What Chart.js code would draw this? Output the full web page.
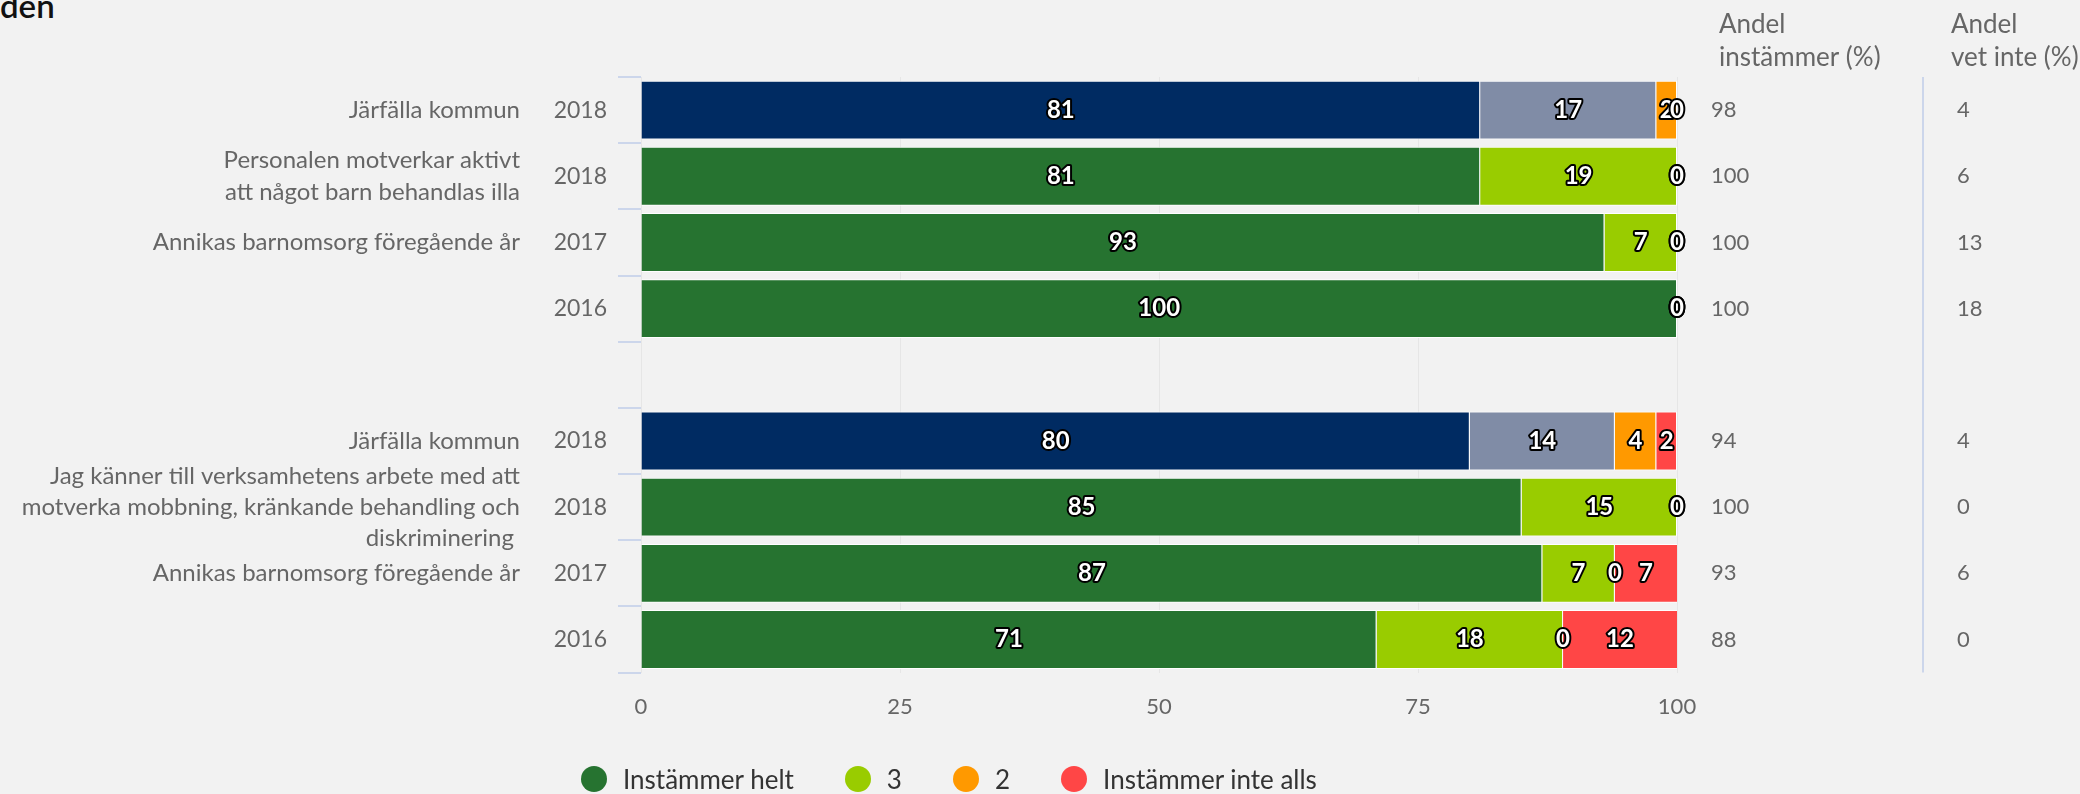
<!DOCTYPE html>
<html lang="sv">
<head>
<meta charset="utf-8">
<title>Andel instämmer</title>
<script src="https://cdn.jsdelivr.net/npm/chart.js@4.4.1/dist/chart.umd.min.js"></script>
<style>
  html, body { margin: 0; padding: 0; background: #f2f2f2; }
  body { width: 2080px; height: 794px; position: relative; overflow: hidden; font-family: Lato, sans-serif; }
  #wrap { position: absolute; left: 0; top: 0; width: 2080px; height: 794px; }
  #title { position: absolute; left: 0; top: -11px; font-size: 33px; font-weight: 600; line-height: 1; color: #111; }
  #legend { position: absolute; left: 581px; top: 766px; height: 26px; display: flex; align-items: center; gap: 51px; font-size: 26px; color: #333; }
  .item { display: flex; align-items: center; gap: 16px; }
  .dot { width: 26px; height: 26px; border-radius: 50%; }
</style>
</head>
<body>
<div id="title">den</div>
<div id="wrap"><canvas id="myChart"></canvas></div>
<div id="legend"></div>
<script>
// rows top to bottom, row 5 is the empty gap between the two questions
const groupLabels = [
  'Järfälla kommun',
  ['Personalen motverkar aktivt', 'att något barn behandlas illa'],
  'Annikas barnomsorg föregående år',
  '',
  '',
  'Järfälla kommun',
  ['Jag känner till verksamhetens arbete med att', 'motverka mobbning, kränkande behandling och', 'diskriminering '],
  'Annikas barnomsorg föregående år',
  '',
];
const years = ['2018', '2018', '2017', '2016', '', '2018', '2018', '2017', '2016'];

const seriesNames = ['Instämmer helt', '3', '2', 'Instämmer inte alls'];
const instammerHelt = [81, 81, 93, 100, null, 80, 85, 87, 71];
const tre           = [17, 19, 7, 0, null, 14, 15, 7, 18];
const tva           = [2, 0, 0, 0, null, 4, 0, 0, 0];
const inteAlls      = [0, 0, 0, 0, null, 2, 0, 7, 12];

const andelInstammer = [98, 100, 100, 100, null, 94, 100, 93, 88];
const andelVetInte   = [4, 6, 13, 18, null, 4, 0, 6, 0];

const seriesColors = ['#267330', '#99cc00', '#ff9900', '#ff4646'];
const kommunColors = ['#002b62', '#808ca6'];   // "Järfälla kommun" rows
const kommunRows = [0, 5];

const textGray = '#666666';

Chart.defaults.font.family = 'Lato, sans-serif';

function rowColors(seriesIdx) {
  return years.map((_, i) =>
    kommunRows.includes(i) && seriesIdx < 2 ? kommunColors[seriesIdx] : seriesColors[seriesIdx]);
}

const seriesData = [instammerHelt, tre, tva, inteAlls];
const datasets = seriesData.map((d, i) => ({
  label: seriesNames[i],
  data: d,
  backgroundColor: rowColors(i),
  borderColor: '#ffffff',
  borderWidth: 1,
  barPercentage: 0.89,
  categoryPercentage: 1,
}));

// white numbers with black outline in the middle of each segment
const barLabels = {
  id: 'barLabels',
  afterDatasetsDraw(chart) {
    const ctx = chart.ctx;
    const right = chart.chartArea.right;
    ctx.save();
    ctx.font = 'bold 24px Lato, sans-serif';
    ctx.textAlign = 'center';
    ctx.textBaseline = 'middle';
    ctx.lineJoin = 'round';
    ctx.lineWidth = 4;
    ctx.strokeStyle = '#000000';
    ctx.fillStyle = '#ffffff';
    chart.data.datasets.forEach((ds, i) => {
      const meta = chart.getDatasetMeta(i);
      meta.data.forEach((bar, j) => {
        const v = ds.data[j];
        if (v === null) return;
        const p = bar.getProps(['x', 'y', 'base'], true);
        const cx = (Math.min(p.x, right) + Math.min(p.base, right)) / 2;
        const txt = String(v);
        ctx.strokeText(txt, cx, p.y);
        ctx.fillText(txt, cx, p.y);
      });
    });
    ctx.restore();
  }
};

// the two number columns on the right
const sideColumns = {
  id: 'sideColumns',
  afterDraw(chart) {
    const ctx = chart.ctx;
    const yScale = chart.scales.y;
    const area = chart.chartArea;
    const col1 = area.right + 34;
    const sep = area.right + 246;
    const col2 = area.right + 280;
    ctx.save();
    ctx.strokeStyle = '#ccd6eb';
    ctx.lineWidth = 2;
    ctx.beginPath();
    ctx.moveTo(sep, area.top);
    ctx.lineTo(sep, area.bottom);
    ctx.stroke();

    ctx.fillStyle = textGray;
    ctx.textAlign = 'left';
    ctx.textBaseline = 'alphabetic';
    ctx.font = '26px Lato, sans-serif';
    ctx.fillText('Andel', col1 + 8, 33);
    ctx.fillText('instämmer (%)', col1 + 8, 66);
    ctx.fillText('Andel', col2 - 6, 33);
    ctx.fillText('vet inte (%)', col2 - 6, 66);

    ctx.font = '22px Lato, sans-serif';
    ctx.textBaseline = 'middle';
    andelInstammer.forEach((v, i) => {
      if (v === null) return;
      ctx.fillText(String(v), col1, yScale.getPixelForValue(i));
    });
    andelVetInte.forEach((v, i) => {
      if (v === null) return;
      ctx.fillText(String(v), col2, yScale.getPixelForValue(i));
    });
    ctx.restore();
  }
};

const config = {
  type: 'bar',
  data: { labels: years, datasets },
  plugins: [barLabels, sideColumns],
  options: {
    indexAxis: 'y',
    responsive: true,
    maintainAspectRatio: false,
    animation: false,
    layout: { padding: { left: 0, right: 403, top: 77, bottom: 53 } },
    plugins: {
      legend: { display: false },
      tooltip: { enabled: true },
    },
    scales: {
      x: {
        stacked: true,
        min: 0,
        max: 100,
        ticks: { stepSize: 25, padding: 21, color: textGray, font: { size: 22 } },
        grid: { color: '#e6e6e6', lineWidth: 1, drawTicks: false },
        border: { display: false },
      },
      y: {
        stacked: true,
        position: 'left',
        weight: 0,
        afterFit: scale => { scale.width = 100; },
        grid: { drawOnChartArea: false, drawTicks: true, tickLength: 23, color: '#ccd6eb', lineWidth: 2 },
        border: { display: false },
        ticks: { padding: 11, autoSkip: false, color: textGray, font: { size: 23 } },
      },
      y2: {
        type: 'category',
        position: 'left',
        labels: groupLabels,
        offset: true,
        weight: 1,
        afterFit: scale => { scale.width = 541; },
        grid: { display: false, drawTicks: false },
        border: { display: false },
        ticks: { padding: 21, autoSkip: false, color: textGray, font: { size: 24, lineHeight: 1.3 } },
      },
    },
  },
};

const myChart = new Chart(document.getElementById('myChart').getContext('2d'), config);

// legend below the chart
const legendEl = document.getElementById('legend');
seriesNames.forEach((name, i) => {
  const item = document.createElement('div');
  item.className = 'item';
  const dot = document.createElement('span');
  dot.className = 'dot';
  dot.style.background = seriesColors[i];
  const label = document.createElement('span');
  label.textContent = name;
  item.appendChild(dot);
  item.appendChild(label);
  legendEl.appendChild(item);
});
</script>
</body>
</html>
